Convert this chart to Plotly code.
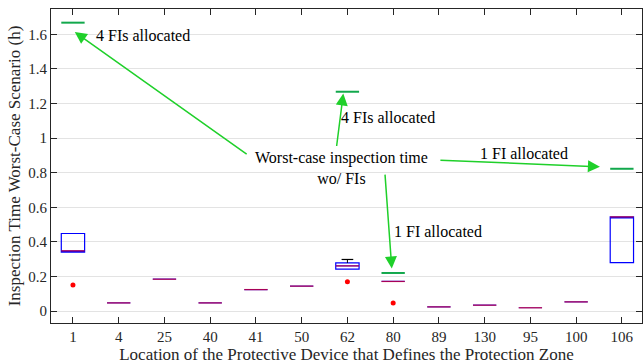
import plotly.graph_objects as go

# ---- data ----
categories = ["1", "4", "25", "40", "41", "50", "62", "80", "89", "130", "95", "100", "106"]
q1 =     [0.341, 0.048, 0.185, 0.048, 0.125, 0.145, 0.243, 0.172, 0.025, 0.035, 0.020, 0.054, 0.281]
median = [0.349, 0.048, 0.185, 0.048, 0.125, 0.145, 0.262, 0.172, 0.025, 0.035, 0.020, 0.054, 0.545]
q3 =     [0.449, 0.048, 0.185, 0.048, 0.125, 0.145, 0.279, 0.172, 0.025, 0.035, 0.020, 0.054, 0.545]
upper_whisker = [None, None, None, None, None, None, 0.299, None, None, None, None, None, None]
outlier_cats = ["1", "62", "80"]
outlier_vals = [0.152, 0.170, 0.048]
worst_cats = ["1", "62", "80", "106"]
worst_vals = [1.667, 1.268, 0.221, 0.823]

idx = list(range(len(categories)))
pos = {c: i for i, c in enumerate(categories)}
BW = 0.51
HW = BW / 2

fig = go.Figure()

# boxes
fig.add_trace(go.Box(
    x=idx, q1=q1, median=median, q3=q3, lowerfence=q1, upperfence=q3,
    width=BW, line=dict(color="#0000ff", width=1.2), fillcolor="rgba(0,0,0,0)",
    whiskerwidth=0, boxpoints=False, showlegend=False, hoverinfo="skip"))

# whiskers (black)
for i, w in enumerate(upper_whisker):
    if w is None:
        continue
    fig.add_trace(go.Scatter(x=[i, i], y=[q3[i], w], mode="lines",
                             line=dict(color="#000000", width=1, dash="dash"),
                             showlegend=False, hoverinfo="skip"))
    fig.add_trace(go.Scatter(x=[i - HW / 2, i + HW / 2], y=[w, w], mode="lines",
                             line=dict(color="#000000", width=1.2),
                             showlegend=False, hoverinfo="skip"))

# medians (red)
mx, my = [], []
for i, m in enumerate(median):
    mx += [i - HW, i + HW, None]
    my += [m, m, None]
fig.add_trace(go.Scatter(x=mx, y=my, mode="lines",
                         line=dict(color="rgba(255,0,0,0.65)", width=1.3),
                         showlegend=False, hoverinfo="skip"))

# outliers
fig.add_trace(go.Scatter(x=[pos[c] for c in outlier_cats], y=outlier_vals, mode="markers",
                         marker=dict(symbol="circle", size=5, color="#ff0000"),
                         showlegend=False, hoverinfo="skip"))

# worst case without FIs (green)
gx, gy = [], []
for c, v in zip(worst_cats, worst_vals):
    i = pos[c]
    gx += [i - HW, i + HW, None]
    gy += [v, v, None]
fig.add_trace(go.Scatter(x=gx, y=gy, mode="lines",
                         line=dict(color="#12a84c", width=2),
                         showlegend=False, hoverinfo="skip"))

FONT = "Liberation Serif, Times New Roman, serif"
GREEN = "#1fd02a"

arrows = [  # (tip_x, tip_y, tail_x, tail_y)
    (0.04, 1.613, 3.83, 0.902),
    (5.91, 1.258, 5.76, 0.946),
    (11.52, 0.834, 8.0, 0.873),
    (6.97, 0.247, 6.82, 0.798),
]
for tx, ty, sx, sy in arrows:
    fig.add_annotation(x=tx, y=ty, ax=sx, ay=sy, xref="x", yref="y", axref="x", ayref="y",
                       text="", showarrow=True, arrowhead=2, arrowsize=1.6, arrowwidth=1.5,
                       arrowcolor=GREEN)

labels = [
    (1.54, 1.595, "4 FIs allocated"),
    (6.89, 1.121, "4 FIs allocated"),
    (5.88, 0.827, "Worst-case inspection time<br>wo/ FIs"),
    (9.86, 0.913, "1 FI allocated"),
    (7.99, 0.462, "1 FI allocated"),
]
for x, y, t in labels:
    fig.add_annotation(x=x, y=y, xref="x", yref="y", text=t, showarrow=False,
                       font=dict(family=FONT, size=16, color="#000000"), bgcolor="rgba(255,255,255,0)")

axis_common = dict(showline=True, linecolor="#262626", linewidth=1, mirror="ticks",
                   ticks="inside", ticklen=6, tickcolor="#262626",
                   tickfont=dict(family=FONT, size=15, color="#262626"), zeroline=False)

fig.update_layout(
    width=643, height=364,
    margin=dict(l=51, r=1, t=9, b=41),
    plot_bgcolor="white", paper_bgcolor="white",
    font=dict(family=FONT, color="#262626"),
    xaxis=dict(range=[-0.48, 12.44], tickvals=idx, ticktext=categories, showgrid=False,
               title=dict(text="Location of the Protective Device that Defines the Protection Zone",
                          font=dict(family=FONT, size=17, color="#262626"), standoff=3),
               **axis_common),
    yaxis=dict(range=[-0.068, 1.746], tickvals=[0, 0.2, 0.4, 0.6, 0.8, 1, 1.2, 1.4, 1.6],
               ticktext=["0", "0.2", "0.4", "0.6", "0.8", "1", "1.2", "1.4", "1.6"],
               showgrid=True, gridcolor="#e3e3e3", gridwidth=1,
               title=dict(text="Inspection Time Worst-Case Scenario (h)",
                          font=dict(family=FONT, size=17, color="#262626"), standoff=3),
               **axis_common),
)

fig.write_html("out.html")
